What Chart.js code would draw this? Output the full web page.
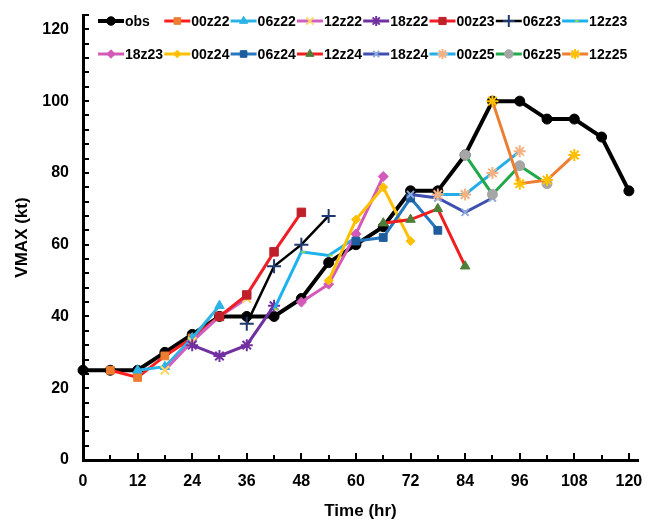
<!DOCTYPE html>
<html>
<head>
<meta charset="utf-8">
<script src="https://cdn.jsdelivr.net/npm/chart.js@4.4.0/dist/chart.umd.min.js"></script>
<style>
  html, body { margin: 0; padding: 0; background: #fff; }
  #wrap { width: 647px; height: 522px; }
</style>
</head>
<body>
<div id="wrap"><canvas id="myChart" width="647" height="522"></canvas></div>
<script>
// observed intensity, every 6 h
const obsHours = [0, 6, 12, 18, 24, 30, 36, 42, 48, 54, 60, 66, 72, 78, 84, 90, 96, 102, 108, 114, 120];
const obsVmax = [25, 25, 25, 30, 35, 40, 40, 40, 45, 55, 60, 65, 75, 75, 85, 100, 100, 95, 95, 90, 75];

// forecast runs: name, first hour, values every 6 h
const runNames = ['00z22', '06z22', '12z22', '18z22', '00z23', '06z23', '12z23',
                  '18z23', '00z24', '06z24', '12z24', '18z24', '00z25', '06z25', '12z25'];
const runStart = [6, 12, 18, 24, 30, 36, 42, 48, 54, 60, 66, 72, 78, 84, 90];
const runVmax = [
  [25, 23, 29, 34, 40],
  [25, 26, 34, 43],
  [25, 33, 40, 45],
  [32, 29, 32, 43],
  [40, 46, 58, 69],
  [38, 54, 60, 68],
  [42, 58, 57, 62],
  [44, 49, 63, 79],
  [50, 67, 76, 61],
  [61, 62, 73, 64],
  [66, 67, 70, 54],
  [74, 73, 69, 73],
  [74, 74, 80, 86],
  [85, 74, 82, 77],
  [100, 77, 78, 85]
];

const xTickLabels = [0, 12, 24, 36, 48, 60, 72, 84, 96, 108, 120];
const yTickLabels = [0, 20, 40, 60, 80, 100, 120];

// styles
const lineColors = ['#FF1E1E', '#2DB2E6', '#D05FC0', '#7030A0', '#F01E26', '#000000', '#1CB2EE',
                    '#D35AB8', '#FFC000', '#2677C0', '#F01E1E', '#3F4FB0', '#23AEE8', '#22A84A', '#ED7D31'];
const markColors = ['#ED7D31', '#2DB2E6', '#FFD966', '#7030A0', '#C0202A', '#1F3A6E', '#9BD14F',
                    '#D35AB8', '#FFC000', '#1F5C9C', '#4E7F3A', '#8EA9DB', '#F4B183', '#A6A6A6', '#FFC000'];
const markStyles = ['rect', 'triangle', 'crossRot', 'star', 'rect', 'cross', 'dash',
                    'rectRot', 'rectRot', 'rect', 'triangle', 'crossRot', 'star', 'circle', 'star'];
const markRadius = [5.5, 5.5, 6, 6, 6, 7, 4, 5, 4.5, 5.5, 5.5, 5, 6, 5, 6];

const datasets = [{
  label: 'obs',
  data: obsHours.map((h, i) => ({ x: h, y: obsVmax[i] })),
  borderColor: '#000',
  borderWidth: 4,
  pointStyle: 'circle',
  pointRadius: 5,
  pointBackgroundColor: '#000',
  pointBorderColor: '#000',
  pointBorderWidth: 1,
  order: 100,
  clip: false
}];

runNames.forEach((name, i) => {
  datasets.push({
    label: name,
    data: runVmax[i].map((v, k) => ({ x: runStart[i] + k * 6, y: v })),
    borderColor: lineColors[i],
    borderWidth: name === '06z23' ? 2.5 : 3,
    pointStyle: markStyles[i],
    pointRadius: markRadius[i],
    pointBackgroundColor: markColors[i],
    pointBorderColor: markColors[i],
    pointBorderWidth: ['star', 'cross', 'crossRot', 'dash'].includes(markStyles[i]) ? 2 : 1,
    order: 50 - i,
    clip: false
  });
});

// inward tick marks like the original
const innerTicks = {
  id: 'innerTicks',
  afterDraw(chart) {
    const ctx = chart.ctx, xs = chart.scales.x, ys = chart.scales.y;
    const a = chart.chartArea;
    ctx.save();
    ctx.strokeStyle = '#000';
    ctx.lineWidth = 2;
    ctx.beginPath();
    for (let v = 6; v <= 120; v += 6) {
      const px = Math.round(xs.getPixelForValue(v));
      const len = v % 12 === 0 ? 7 : 5;
      ctx.moveTo(px, a.bottom);
      ctx.lineTo(px, a.bottom - len);
    }
    for (let v = 4; v <= 124; v += 4) {
      const py = Math.round(ys.getPixelForValue(v));
      ctx.moveTo(a.left, py);
      ctx.lineTo(a.left + 6, py);
    }
    ctx.stroke();
    ctx.restore();
  }
};

// two-row legend with line + marker
const gridLegend = {
  id: 'gridLegend',
  afterDraw(chart) {
    const ctx = chart.ctx;
    chart.data.datasets.forEach((ds, i) => {
      const col = i % 8, row = Math.floor(i / 8);
      const x = 98 + col * 66.3, y = 21 + row * 33;
      ctx.save();
      ctx.strokeStyle = ds.borderColor;
      ctx.lineWidth = ds.borderWidth;
      ctx.beginPath();
      ctx.moveTo(x, y);
      ctx.lineTo(x + 26, y);
      ctx.stroke();
      ctx.fillStyle = ds.pointBackgroundColor;
      ctx.strokeStyle = ds.pointBorderColor;
      ctx.lineWidth = ds.pointBorderWidth;
      Chart.helpers.drawPoint(ctx, {
        pointStyle: ds.pointStyle,
        radius: ds.pointRadius * 0.85,
        rotation: 0,
        borderWidth: ds.pointBorderWidth
      }, x + 13, y);
      ctx.fillStyle = '#000';
      ctx.font = 'bold 14px "Liberation Sans", Arial, sans-serif';
      ctx.textBaseline = 'middle';
      ctx.textAlign = 'left';
      ctx.fillText(ds.label, x + 27, y + 1);
      ctx.restore();
    });
  }
};

const tickFont = { family: '"Liberation Sans", Arial, sans-serif', size: 16, weight: 'bold' };
const titleFont = { family: '"Liberation Sans", Arial, sans-serif', size: 17, weight: 'bold' };

new Chart(document.getElementById('myChart').getContext('2d'), {
  type: 'line',
  data: { datasets: datasets },
  options: {
    responsive: false,
    devicePixelRatio: 1,
    animation: false,
    layout: { padding: { top: 15, right: 0, left: 0, bottom: 0 } },
    plugins: { legend: { display: false }, tooltip: { enabled: false } },
    scales: {
      x: {
        type: 'linear',
        min: 0,
        max: 122,
        afterFit: s => { s.height = 62; s.paddingLeft = 0; s.paddingRight = 0; },
        afterBuildTicks: s => { s.ticks = xTickLabels.map(v => ({ value: v })); },
        grid: { display: false, drawTicks: false },
        border: { display: true, color: '#000', width: 3 },
        ticks: {
          autoSkip: false,
          maxRotation: 0,
          padding: 12,
          color: '#000',
          font: tickFont
        },
        title: { display: true, text: 'Time (hr)', color: '#000', font: titleFont, padding: { top: 4, bottom: 0 } }
      },
      y: {
        min: 0,
        max: 124,
        afterFit: s => { s.width = 83; s.paddingTop = 0; s.paddingBottom = 0; },
        afterBuildTicks: s => { s.ticks = yTickLabels.map(v => ({ value: v })); },
        grid: { display: false, drawTicks: false },
        border: { display: true, color: '#000', width: 3 },
        ticks: {
          autoSkip: false,
          padding: 14,
          color: '#000',
          font: tickFont
        },
        title: { display: true, text: 'VMAX (kt)', color: '#000', font: titleFont, padding: { top: 12, bottom: 0 } }
      }
    }
  },
  plugins: [innerTicks, gridLegend]
});
</script>
</body>
</html>
